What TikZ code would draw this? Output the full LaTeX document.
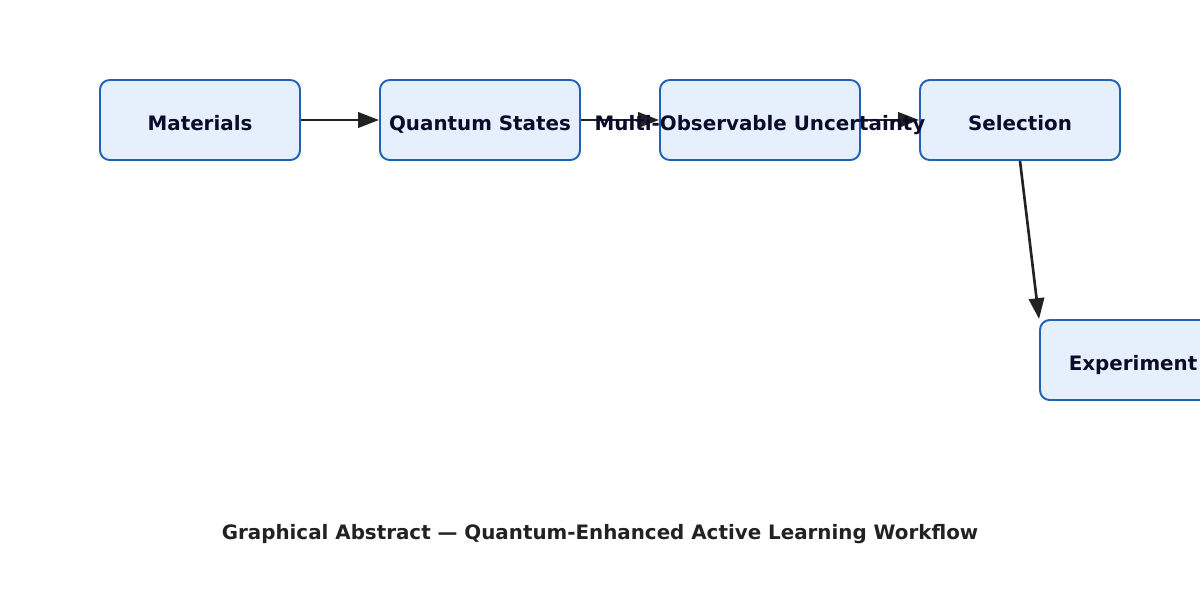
\documentclass[tikz,border=0pt]{standalone}
\usepackage{fontspec}
\setmainfont{DejaVu Sans}
\usetikzlibrary{arrows.meta}
\definecolor{boxfill}{HTML}{E6F0FD}
\definecolor{boxline}{HTML}{1F62B5}
\definecolor{boxtext}{HTML}{0B0B2B}
\definecolor{arrowcol}{HTML}{222222}

\begin{document}
\begin{tikzpicture}[x=0.72pt, y=-0.72pt,
    stagebox/.style={draw=boxline, fill=boxfill, line width=1.4pt,
      rounded corners=7pt, minimum width=144pt, minimum height=57.6pt,
      inner sep=0pt, text=boxtext, text height=15.4pt, text depth=0pt,
      font=\fontsize{14.3}{17}\selectfont\bfseries},
    flow/.style={line width=1.9pt, color=arrowcol,
      arrows={-Triangle[length=15pt, width=11pt]}}]
      \useasboundingbox (0,0) rectangle (1200,600);
      \clip (0,0) rectangle (1200,600);

      \node[stagebox] (materials) at (200,120) {};
      \node[stagebox] (states) at (480,120) {};
      \node[stagebox] (uncert) at (760,120) {};
      \node[stagebox] (select) at (1020,120) {};
      \node[stagebox] (experiment) at (1140,360) {};

      \draw[flow] (materials.east) -- (states.west);
      \draw[flow] (states.east) -- (uncert.west);
      \draw[flow] (uncert.east) -- (select.west);
      \draw[flow] (select.south) -- (experiment.north west);

      \node[stagebox, draw=none, fill=none] at (materials) {Materials};
      \node[stagebox, draw=none, fill=none] at (states) {Quantum States};
      \node[stagebox, draw=none, fill=none] at (uncert) {Multi-Observable Uncertainty};
      \node[stagebox, draw=none, fill=none] at (select) {Selection};
      \node[stagebox, draw=none, fill=none, xshift=-5pt] at (experiment) {Experiment};

      \node[anchor=base, text=arrowcol, font=\fontsize{14.3}{17}\selectfont\bfseries]
        (title) at (600,539) {Graphical Abstract — Quantum-Enhanced Active Learning Workflow};
    \end{tikzpicture}
\end{document}
